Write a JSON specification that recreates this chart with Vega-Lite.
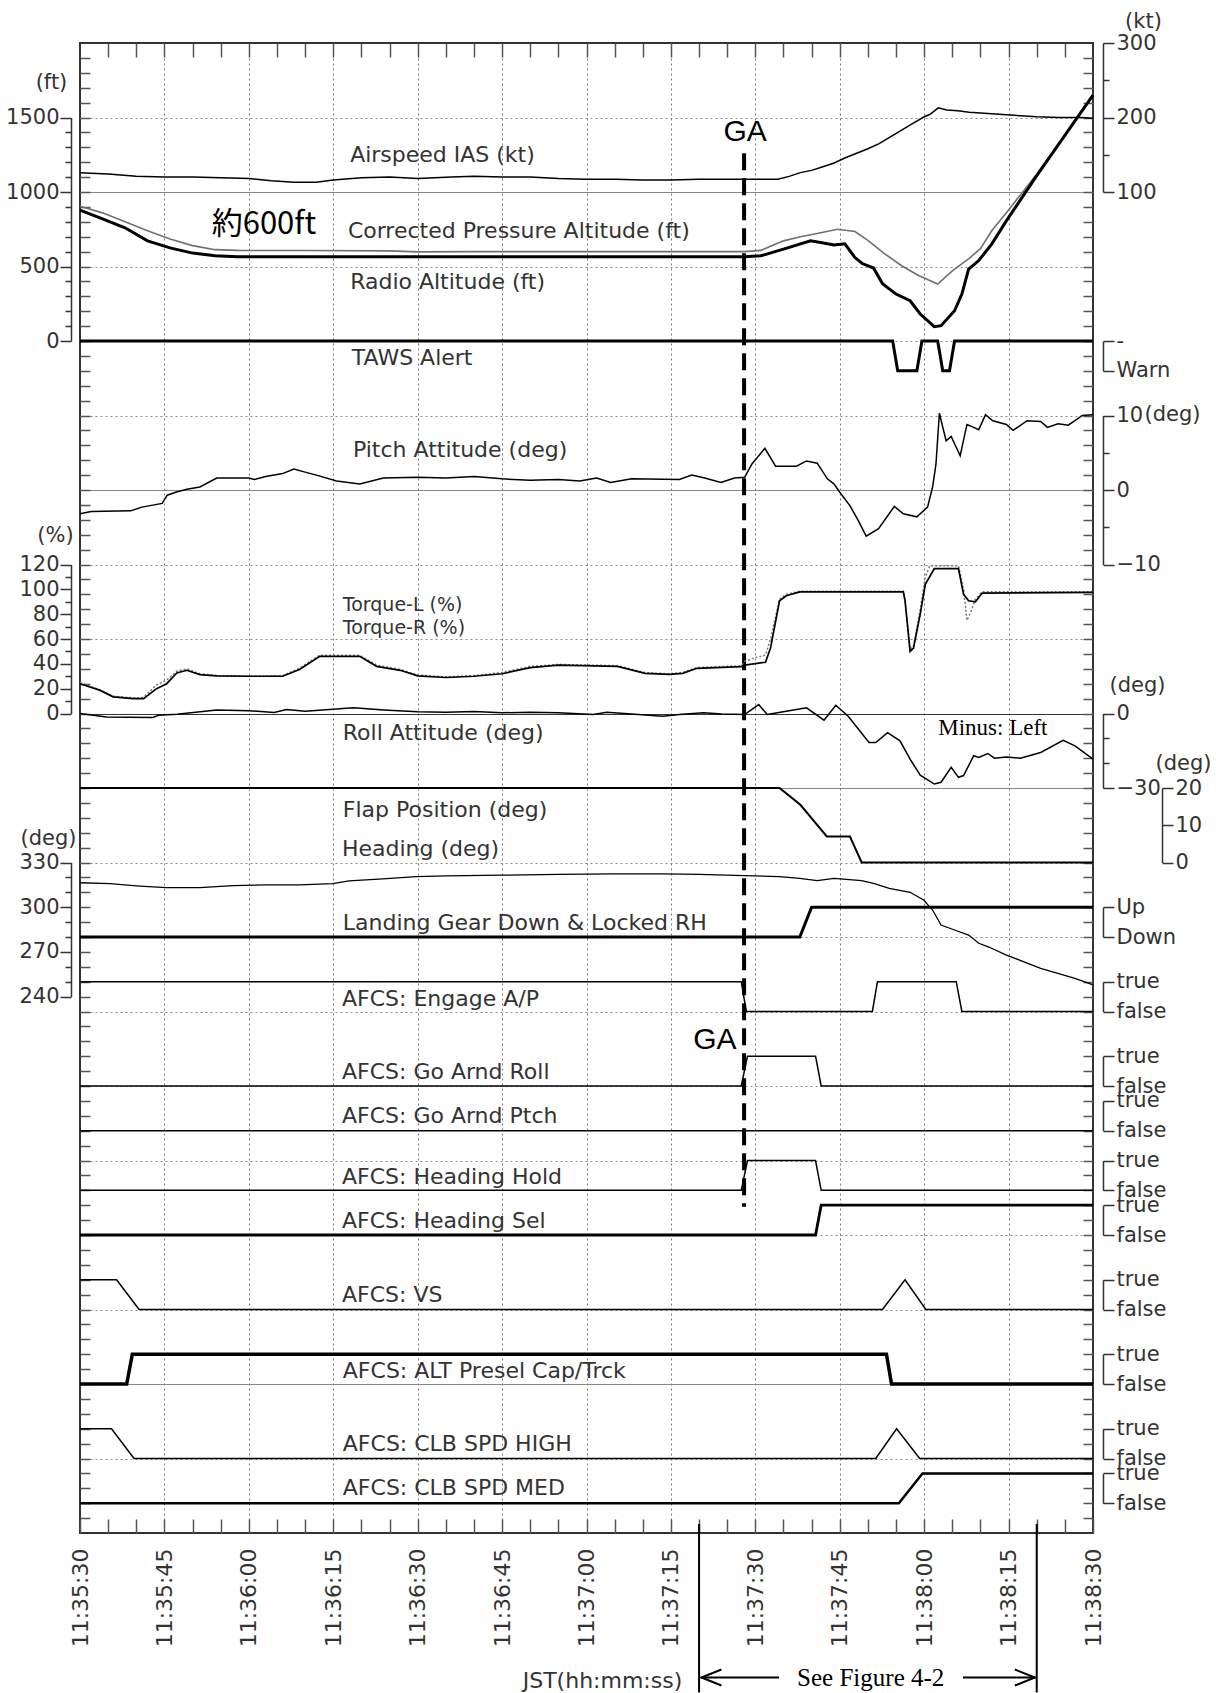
{
"$schema": "https://vega.github.io/schema/vega-lite/v6.json",
"width": 1013, "height": 1490,
"autosize": {"type": "none"},
"padding": {"left": 80, "top": 43, "right": 123, "bottom": 160},
"background": "white",
"data": {"values": [{}]},
"config": {
 "view": {"stroke": "#333", "strokeWidth": 2},
 "text": {"font": "DejaVu Sans", "fontSize": 22, "color": "#333", "align": "left", "baseline": "middle"},
 "axis": {"labelFont": "DejaVu Sans", "labelFontSize": 21, "labelColor": "#333", "domainColor": "#333", "tickColor": "#333", "titleFont": "DejaVu Sans", "titleFontSize": 21, "titleFontWeight": "normal", "titleColor": "#333", "labelOverlap": false, "labelBound": false, "labelFlush": false, "grid": false, "domainWidth": 1.5, "tickWidth": 1.5}
},
"datasets": {
 "ias": [{"t":0,"v":126},{"t":5,"v":124},{"t":10,"v":121},{"t":15,"v":120},{"t":20,"v":120},{"t":25,"v":119},{"t":30,"v":118},{"t":34,"v":115},{"t":38,"v":113},{"t":42,"v":113},{"t":45,"v":116},{"t":50,"v":119},{"t":55,"v":120},{"t":60,"v":118},{"t":66,"v":120},{"t":70,"v":121},{"t":75,"v":120},{"t":80,"v":120},{"t":85,"v":118},{"t":90,"v":117},{"t":95,"v":117},{"t":100,"v":116},{"t":105,"v":116},{"t":110,"v":117},{"t":115,"v":117},{"t":120,"v":117},{"t":124,"v":117},{"t":126,"v":121},{"t":128,"v":126},{"t":130,"v":129},{"t":132,"v":134},{"t":134,"v":139},{"t":136,"v":146},{"t":138,"v":152},{"t":140,"v":158},{"t":142,"v":165},{"t":144,"v":174},{"t":146,"v":183},{"t":148,"v":192},{"t":150,"v":201},{"t":151,"v":204},{"t":152.5,"v":213},{"t":154,"v":210},{"t":156,"v":209},{"t":158,"v":207},{"t":160,"v":206},{"t":162,"v":205},{"t":166,"v":203},{"t":170,"v":201},{"t":174,"v":200},{"t":178,"v":200},{"t":180,"v":199}],
 "palt": [{"t":0,"v":905},{"t":4,"v":860},{"t":8,"v":800},{"t":12,"v":740},{"t":16,"v":685},{"t":20,"v":640},{"t":24,"v":613},{"t":28,"v":608},{"t":40,"v":607},{"t":55,"v":605},{"t":60,"v":598},{"t":70,"v":600},{"t":85,"v":600},{"t":100,"v":600},{"t":118,"v":600},{"t":121,"v":608},{"t":125,"v":672},{"t":128,"v":700},{"t":131,"v":722},{"t":134.6,"v":750},{"t":137.7,"v":735},{"t":140,"v":675},{"t":143,"v":585},{"t":146,"v":505},{"t":149,"v":440},{"t":152.4,"v":382},{"t":155,"v":470},{"t":158,"v":555},{"t":160,"v":620},{"t":162,"v":740},{"t":165,"v":880},{"t":170,"v":1120},{"t":175,"v":1380},{"t":180,"v":1650}],
 "ralt": [{"t":0,"v":878},{"t":4,"v":820},{"t":8,"v":760},{"t":12,"v":672},{"t":16,"v":625},{"t":20,"v":590},{"t":24,"v":572},{"t":28,"v":566},{"t":40,"v":566},{"t":60,"v":565},{"t":80,"v":565},{"t":100,"v":565},{"t":118,"v":565},{"t":121,"v":572},{"t":125,"v":617},{"t":129.8,"v":672},{"t":131.6,"v":661},{"t":134,"v":645},{"t":135.9,"v":652},{"t":137.7,"v":560},{"t":139,"v":520},{"t":141,"v":490},{"t":142.6,"v":385},{"t":145,"v":315},{"t":147.5,"v":270},{"t":149.3,"v":181},{"t":151.8,"v":96},{"t":153,"v":103},{"t":155.4,"v":203},{"t":156.7,"v":315},{"t":157.9,"v":482},{"t":159.7,"v":540},{"t":162,"v":650},{"t":164.6,"v":806},{"t":170,"v":1110},{"t":175,"v":1380},{"t":180,"v":1650}],
 "taws": [{"t":0,"v":0},{"t":144.4,"v":0},{"t":145.3,"v":1},{"t":148.7,"v":1},{"t":149.6,"v":0},{"t":152.4,"v":0},{"t":153.3,"v":1},{"t":154.5,"v":1},{"t":155.4,"v":0},{"t":180,"v":0}],
 "pitch": [{"t":0,"v":-3.2},{"t":2,"v":-2.9},{"t":9,"v":-2.8},{"t":11,"v":-2.3},{"t":14.6,"v":-1.8},{"t":15.5,"v":-0.7},{"t":17,"v":-0.3},{"t":19,"v":0.1},{"t":21.3,"v":0.4},{"t":24.3,"v":1.6},{"t":30,"v":1.6},{"t":31,"v":1.4},{"t":33,"v":1.8},{"t":36,"v":2.2},{"t":38,"v":2.8},{"t":40,"v":2.4},{"t":42,"v":2.0},{"t":45.6,"v":1.2},{"t":49.7,"v":0.8},{"t":53.9,"v":1.6},{"t":60,"v":1.7},{"t":65,"v":1.6},{"t":70,"v":1.8},{"t":75,"v":1.5},{"t":80,"v":1.3},{"t":85,"v":1.4},{"t":88.8,"v":1.2},{"t":91.8,"v":1.6},{"t":94.3,"v":1.0},{"t":98,"v":1.5},{"t":106.5,"v":1.4},{"t":108.7,"v":2.0},{"t":111,"v":1.6},{"t":113.9,"v":1.0},{"t":116.3,"v":1.6},{"t":118.1,"v":1.7},{"t":119.4,"v":3.5},{"t":121.7,"v":5.6},{"t":123.6,"v":3.2},{"t":127.3,"v":3.2},{"t":129.1,"v":3.9},{"t":131,"v":3.6},{"t":132.8,"v":1.5},{"t":134,"v":0.8},{"t":135,"v":-0.3},{"t":136.8,"v":-2.1},{"t":138.3,"v":-4.1},{"t":139.7,"v":-6.2},{"t":141.9,"v":-5.2},{"t":144.7,"v":-2.2},{"t":146.3,"v":-3.2},{"t":148.7,"v":-3.6},{"t":150.6,"v":-2.3},{"t":151.5,"v":0.4},{"t":152.1,"v":3.5},{"t":152.7,"v":10.3},{"t":153.9,"v":6.6},{"t":154.8,"v":7.2},{"t":156.4,"v":4.6},{"t":157.6,"v":8.8},{"t":158.5,"v":8.5},{"t":159.7,"v":8.1},{"t":160.9,"v":10.1},{"t":162.2,"v":9.3},{"t":164.6,"v":8.8},{"t":165.8,"v":8.0},{"t":168.3,"v":9.3},{"t":170.7,"v":9.2},{"t":171.9,"v":8.4},{"t":173.8,"v":8.9},{"t":175.6,"v":8.7},{"t":176.8,"v":9.3},{"t":178.1,"v":10.0},{"t":180,"v":10.1}],
 "tql": [{"t":0,"v":24},{"t":3.5,"v":18.8},{"t":5.9,"v":13.4},{"t":9.5,"v":12},{"t":11.3,"v":12},{"t":13.6,"v":20},{"t":15.4,"v":24},{"t":17.2,"v":32.7},{"t":19,"v":34.8},{"t":21.3,"v":31.3},{"t":24.3,"v":30.3},{"t":30,"v":30},{"t":36,"v":30},{"t":39,"v":35.4},{"t":42.6,"v":46},{"t":49.7,"v":46},{"t":52.7,"v":38},{"t":56.9,"v":34.8},{"t":60,"v":30.3},{"t":65,"v":29},{"t":70,"v":30},{"t":75,"v":32},{"t":80,"v":37},{"t":85,"v":39},{"t":95.5,"v":38},{"t":100.4,"v":32.3},{"t":104.7,"v":31.5},{"t":107.1,"v":32.3},{"t":109.6,"v":36.4},{"t":117.5,"v":37.8},{"t":118.1,"v":39},{"t":121.8,"v":41.3},{"t":122.7,"v":52.7},{"t":124.3,"v":90.8},{"t":125.5,"v":94.8},{"t":127.9,"v":98},{"t":146.3,"v":98},{"t":146.6,"v":90.8},{"t":147.5,"v":50},{"t":148.1,"v":52.7},{"t":149.3,"v":80},{"t":150.2,"v":104},{"t":151.8,"v":116.6},{"t":156.1,"v":116.6},{"t":157,"v":96},{"t":157.9,"v":90.8},{"t":159.1,"v":90},{"t":160.3,"v":97},{"t":180,"v":97.5}],
 "tqr": [{"t":0,"v":25},{"t":3.5,"v":19},{"t":5.9,"v":14},{"t":9.5,"v":12.5},{"t":11.3,"v":13},{"t":13.6,"v":23},{"t":15.4,"v":27},{"t":17.2,"v":34},{"t":19,"v":36},{"t":21.3,"v":32},{"t":24.3,"v":30.5},{"t":30,"v":30},{"t":36,"v":30.5},{"t":39,"v":36.5},{"t":42.6,"v":47},{"t":49.7,"v":47},{"t":52.7,"v":39},{"t":56.9,"v":35.5},{"t":60,"v":31},{"t":65,"v":29.5},{"t":70,"v":30.5},{"t":75,"v":33},{"t":80,"v":38},{"t":85,"v":39.5},{"t":95.5,"v":38.5},{"t":100.4,"v":33},{"t":104.7,"v":32},{"t":107.1,"v":33},{"t":109.6,"v":37},{"t":117.5,"v":38.5},{"t":118.1,"v":42},{"t":120,"v":45},{"t":121.8,"v":47},{"t":122.7,"v":60},{"t":124.3,"v":92},{"t":125.5,"v":96},{"t":127.9,"v":98.5},{"t":146.3,"v":98.5},{"t":146.6,"v":92},{"t":147.5,"v":52},{"t":148.1,"v":54},{"t":149.3,"v":84},{"t":150.2,"v":110},{"t":151,"v":119},{"t":156.1,"v":119},{"t":157,"v":100},{"t":157.6,"v":75},{"t":158.3,"v":82},{"t":159.1,"v":92},{"t":160.3,"v":98},{"t":180,"v":98}],
 "roll": [{"t":0,"v":0},{"t":4.7,"v":-1.4},{"t":12.9,"v":-1.6},{"t":14,"v":-0.7},{"t":17.2,"v":-0.3},{"t":24.3,"v":1.4},{"t":30,"v":1.1},{"t":34.5,"v":0.4},{"t":36.7,"v":1.6},{"t":40,"v":0.9},{"t":48.6,"v":2.3},{"t":54,"v":1.4},{"t":60,"v":0.7},{"t":65,"v":0.5},{"t":70,"v":0.8},{"t":75,"v":0.3},{"t":80,"v":0.5},{"t":85,"v":0.3},{"t":91.2,"v":-0.4},{"t":93.6,"v":0.5},{"t":98,"v":-0.2},{"t":103.5,"v":-1.1},{"t":107,"v":-0.3},{"t":110.8,"v":0.3},{"t":114,"v":-0.2},{"t":118.1,"v":-0.4},{"t":120.6,"v":3.6},{"t":122.1,"v":-0.4},{"t":125.5,"v":0.9},{"t":129.1,"v":2.3},{"t":132.2,"v":-2.7},{"t":134.3,"v":3.3},{"t":136.5,"v":-1.1},{"t":140.2,"v":-11.7},{"t":141.4,"v":-11.7},{"t":143.5,"v":-7.7},{"t":145.7,"v":-11},{"t":147.5,"v":-18.4},{"t":149.3,"v":-24.8},{"t":151.8,"v":-28.4},{"t":153,"v":-27.7},{"t":154.8,"v":-21.7},{"t":156.1,"v":-25.7},{"t":157,"v":-25},{"t":158.8,"v":-17},{"t":159.7,"v":-17.7},{"t":161.3,"v":-16.1},{"t":162.5,"v":-18},{"t":164.6,"v":-17.5},{"t":167.1,"v":-18},{"t":170.7,"v":-15.7},{"t":174.7,"v":-10.8},{"t":176.8,"v":-13},{"t":180,"v":-18.4}],
 "flap": [{"t":0,"v":20},{"t":124.3,"v":20},{"t":128,"v":15.5},{"t":130.5,"v":11},{"t":132.7,"v":7},{"t":136.8,"v":7},{"t":138.9,"v":0},{"t":180,"v":0}],
 "hdg": [{"t":0,"v":316.4},{"t":5.3,"v":315.8},{"t":10.6,"v":314.2},{"t":15.4,"v":313.1},{"t":21.3,"v":313.1},{"t":27.2,"v":314.5},{"t":33.1,"v":315},{"t":39,"v":315},{"t":44.9,"v":315.8},{"t":47.8,"v":317.7},{"t":53.8,"v":319},{"t":59.7,"v":320.5},{"t":65,"v":321},{"t":75,"v":321.5},{"t":85,"v":322},{"t":95,"v":322.3},{"t":103.5,"v":322.3},{"t":110,"v":322},{"t":118.1,"v":321.2},{"t":124.3,"v":320.5},{"t":127.9,"v":319.4},{"t":131,"v":317.8},{"t":134,"v":319.4},{"t":138.9,"v":317.8},{"t":141,"v":316},{"t":143.8,"v":312.7},{"t":147.5,"v":310},{"t":149.9,"v":304.8},{"t":151.5,"v":298.1},{"t":153,"v":288},{"t":155.4,"v":284.7},{"t":157.9,"v":281.3},{"t":159.7,"v":275.8},{"t":161.6,"v":273.1},{"t":164.6,"v":267.9},{"t":170.7,"v":259},{"t":176.8,"v":252.3},{"t":180,"v":247.8}],
 "gear": [{"t":0,"v":0},{"t":127.9,"v":0},{"t":130,"v":1},{"t":180,"v":1}],
 "ap": [{"t":0,"v":1},{"t":117.5,"v":1},{"t":118.4,"v":0},{"t":140.8,"v":0},{"t":141.7,"v":1},{"t":155.7,"v":1},{"t":156.7,"v":0},{"t":180,"v":0}],
 "garoll": [{"t":0,"v":0},{"t":117.5,"v":0},{"t":118.6,"v":1},{"t":130.7,"v":1},{"t":131.7,"v":0},{"t":180,"v":0}],
 "gaptch": [{"t":0,"v":0},{"t":180,"v":0}],
 "hdghold": [{"t":0,"v":0},{"t":117.5,"v":0},{"t":118.6,"v":1},{"t":130.7,"v":1},{"t":131.7,"v":0},{"t":180,"v":0}],
 "hdgsel": [{"t":0,"v":0},{"t":130.7,"v":0},{"t":131.7,"v":1},{"t":180,"v":1}],
 "vs": [{"t":0,"v":1},{"t":6.5,"v":1},{"t":10.5,"v":0},{"t":142.6,"v":0},{"t":146.6,"v":1},{"t":150.3,"v":0},{"t":180,"v":0}],
 "altsel": [{"t":0,"v":0},{"t":8.3,"v":0},{"t":9.3,"v":1},{"t":143.3,"v":1},{"t":144.2,"v":0},{"t":180,"v":0}],
 "clbhigh": [{"t":0,"v":1},{"t":5.6,"v":1},{"t":9.6,"v":0},{"t":141.4,"v":0},{"t":145.1,"v":1},{"t":149.2,"v":0},{"t":180,"v":0}],
 "clbmed": [{"t":0,"v":0},{"t":145.5,"v":0},{"t":149.7,"v":1},{"t":180,"v":1}]
},
"layer": [
 {"mark": {"type": "text", "align": "left", "baseline": "middle", "font": "Liberation Serif", "fontSize": 23, "color": "black", "text": "Minus: Left"},
  "encoding": {
   "x": {"datum": 152.5, "type": "quantitative", "scale": {"domain": [0, 180], "nice": false, "zero": false}, "axis": {"orient": "top", "values": [15,30,45,60,75,90,105,120,135,150,165], "grid": true, "gridColor": "#777", "gridDash": [2,3], "gridWidth": 1, "ticks": false, "labels": false, "domain": false, "title": null}},
   "y": {"datum": 46.0, "type": "quantitative", "scale": {"domain": [0, 100], "range": [0, 1490], "nice": false, "zero": false},
     "axis": {"orient": "left", "values": [5,10,15,20,25,30,35,40,45,50,55,60,65,70,75,80,85,90,95], "grid": true, "gridWidth": 1.2,
       "gridColor": {"condition": {"test": "datum.value === 45", "value": "#333"}, "value": "#888"},
       "gridDash": {"condition": {"test": "indexof([10,30,45,50,90], datum.value) >= 0", "value": []}, "value": [2,3]},
       "ticks": false, "labels": false, "domain": false, "title": null}}
  }},
 {"mark": {"type": "rule", "strokeDash": [17, 8], "strokeWidth": 4, "color": "black"},
  "encoding": {
   "x": {"datum": 118, "type": "quantitative", "axis": {"orient": "bottom", "values": [0,5,10,15,20,25,30,35,40,45,50,55,60,65,70,75,80,85,90,95,100,105,110,115,120,125,130,135,140,145,150,155,160,165,170,175,180], "tickSize": -14, "tickColor": "#555", "domain": false, "labelAngle": -90, "labelAlign": "right", "labelBaseline": "middle", "labelPadding": 29, "labelFontSize": 22,
     "labelExpr": "datum.value % 15 === 0 ? timeFormat(datetime(2000, 0, 1, 11, 35, 30 + datum.value), '%H:%M:%S') : ''",
     "title": "JST(hh:mm:ss)", "titleAngle": 0, "titleX": 522, "titleY": 147, "titleAlign": "center", "titleBaseline": "middle", "titleFontSize": 22}},
   "y": {"datum": 7.4, "type": "quantitative", "scale": {"domain": [0, 100], "range": [0, 1490], "nice": false, "zero": false},
     "axis": {"orient": "left", "values": [1,2,3,4,5,6,7,8,9,10,11,12,13,14,15,16,17,18,19,20,21,22,23,24,25,26,27,28,29,30,31,32,33,34,35,36,37,38,39,40,41,42,43,44,45,46,47,48,49,50,51,52,53,54,55,56,57,58,59,60,61,62,63,64,65,66,67,68,69,70,71,72,73,74,75,76,77,78,79,80,81,82,83,84,85,86,87,88,89,90,91,92,93,94,95,96,97,98,99], "tickSize": -10, "tickColor": "#555", "labels": false, "domain": false, "title": null}},
   "y2": {"datum": 78.1}
  }},
 {"mark": {"type": "rule", "strokeWidth": 2, "color": "black"},
  "encoding": {
   "x": {"datum": 110, "type": "quantitative", "axis": {"orient": "top", "values": [5,10,15,20,25,30,35,40,45,50,55,60,65,70,75,80,85,90,95,100,105,110,115,120,125,130,135,140,145,150,155,160,165,170,175], "tickSize": -14, "tickColor": "#555", "labels": false, "domain": false, "title": null}},
   "y": {"datum": 99.4, "type": "quantitative", "scale": {"domain": [0, 100], "range": [0, 1490], "nice": false, "zero": false},
     "axis": {"orient": "right", "values": [1,2,3,4,5,6,7,8,9,10,11,12,13,14,15,16,17,18,19,20,21,22,23,24,25,26,27,28,29,30,31,32,33,34,35,36,37,38,39,40,41,42,43,44,45,46,47,48,49,50,51,52,53,54,55,56,57,58,59,60,61,62,63,64,65,66,67,68,69,70,71,72,73,74,75,76,77,78,79,80,81,82,83,84,85,86,87,88,89,90,91,92,93,94,95,96,97,98,99], "tickSize": -10, "tickColor": "#555", "labels": false, "domain": false, "title": null}},
   "y2": {"datum": 110.7}
  }},
 {"mark": {"type": "rule", "strokeWidth": 2, "color": "black"},
  "encoding": {"x": {"datum": 170, "type": "quantitative", "axis": null}, "y": {"datum": 99.4, "type": "quantitative", "scale": {"domain": [0, 100], "range": [0, 1490], "nice": false, "zero": false}, "axis": null}, "y2": {"datum": 110.7}}},
 {"mark": {"type": "rule", "strokeWidth": 2, "color": "black"},
  "encoding": {"x": {"datum": 110.3, "type": "quantitative", "axis": null}, "x2": {"datum": 124.2}, "y": {"datum": 109.7, "type": "quantitative", "scale": {"domain": [0, 100], "range": [0, 1490], "nice": false, "zero": false}, "axis": null}}},
 {"mark": {"type": "rule", "strokeWidth": 2, "color": "black"},
  "encoding": {"x": {"datum": 156.9, "type": "quantitative", "axis": null}, "x2": {"datum": 169.8}, "y": {"datum": 109.7, "type": "quantitative", "scale": {"domain": [0, 100], "range": [0, 1490], "nice": false, "zero": false}, "axis": null}}},
 {"mark": {"type": "point", "shape": "M 1 -0.8 L -1 0 L 1 0.8", "size": 400, "filled": false, "strokeWidth": 2, "color": "black", "opacity": 1},
  "encoding": {"x": {"datum": 112.2, "type": "quantitative", "axis": null}, "y": {"datum": 109.7, "type": "quantitative", "scale": {"domain": [0, 100], "range": [0, 1490], "nice": false, "zero": false}, "axis": null}}},
 {"mark": {"type": "point", "shape": "M -1 -0.8 L 1 0 L -1 0.8", "size": 400, "filled": false, "strokeWidth": 2, "color": "black", "opacity": 1},
  "encoding": {"x": {"datum": 167.9, "type": "quantitative", "axis": null}, "y": {"datum": 109.7, "type": "quantitative", "scale": {"domain": [0, 100], "range": [0, 1490], "nice": false, "zero": false}, "axis": null}}},
 {"mark": {"type": "text", "align": "center", "baseline": "middle", "font": "Liberation Serif", "fontSize": 25, "color": "black", "text": "See Figure 4-2"},
  "encoding": {"x": {"datum": 140.5, "type": "quantitative", "axis": null}, "y": {"datum": 109.7, "type": "quantitative", "scale": {"domain": [0, 100], "range": [0, 1490], "nice": false, "zero": false}, "axis": null}}},
 {"mark": {"type": "text", "align": "center", "baseline": "middle", "font": "Liberation Sans", "fontSize": 30, "color": "black", "text": "GA"},
  "encoding": {"x": {"datum": 118.2, "type": "quantitative", "axis": null}, "y": {"datum": 6.0, "type": "quantitative", "scale": {"domain": [0, 100], "range": [0, 1490], "nice": false, "zero": false}, "axis": null}}},
 {"mark": {"type": "text", "align": "center", "baseline": "middle", "font": "Liberation Sans", "fontSize": 30, "color": "black", "text": "GA"},
  "encoding": {"x": {"datum": 112.8, "type": "quantitative", "axis": null}, "y": {"datum": 66.9, "type": "quantitative", "scale": {"domain": [0, 100], "range": [0, 1490], "nice": false, "zero": false}, "axis": null}}},
 {"mark": {"type": "text", "align": "left", "baseline": "middle", "font": "Noto Sans CJK JP", "fontSize": 31, "color": "black", "text": "約600ft"},
  "encoding": {"x": {"datum": 23.4, "type": "quantitative", "axis": null}, "y": {"datum": 12.2, "type": "quantitative", "scale": {"domain": [0, 100], "range": [0, 1490], "nice": false, "zero": false}, "axis": null}}},

 {"data": {"name": "ias"}, "mark": {"type": "line", "color": "black", "strokeWidth": 1.5},
  "encoding": {"x": {"field": "t", "type": "quantitative", "axis": null}, "y": {"field": "v", "type": "quantitative", "scale": {"domain": [100, 300], "range": [149, 0], "nice": false, "zero": false},
   "axis": {"orient": "right", "offset": 10, "values": [100,150,200,250,300], "labelExpr": "datum.value % 100 === 0 ? datum.label : ''", "tickSize": {"condition": {"test": "datum.value % 100 === 0", "value": 11}, "value": 6}, "labelPadding": 2, "title": "(kt)", "titleAngle": 0, "titleX": 40, "titleY": -22, "titleAlign": "center", "titleBaseline": "middle"}}}},
 {"data": {"name": "palt"}, "mark": {"type": "line", "color": "#707070", "strokeWidth": 1.6},
  "encoding": {"x": {"field": "t", "type": "quantitative", "axis": null}, "y": {"field": "v", "type": "quantitative", "scale": {"domain": [0, 1500], "range": [298, 74.5], "nice": false, "zero": false},
   "axis": {"orient": "left", "offset": 9, "values": [0,100,200,300,400,500,600,700,800,900,1000,1100,1200,1300,1400,1500], "format": "d", "labelExpr": "datum.value % 500 === 0 ? datum.label : ''", "tickSize": {"condition": {"test": "datum.value % 500 === 0", "value": 11}, "value": 6}, "labelPadding": 1, "title": "(ft)", "titleAngle": 0, "titleX": -20, "titleY": 39, "titleAlign": "center", "titleBaseline": "middle"}}}},
 {"data": {"name": "ralt"}, "mark": {"type": "line", "color": "black", "strokeWidth": 3},
  "encoding": {"x": {"field": "t", "type": "quantitative", "axis": null}, "y": {"field": "v", "type": "quantitative", "scale": {"domain": [0, 1500], "range": [298, 74.5], "nice": false, "zero": false}, "axis": null}}},
 {"data": {"name": "taws"}, "mark": {"type": "line", "color": "black", "strokeWidth": 3},
  "encoding": {"x": {"field": "t", "type": "quantitative", "axis": null}, "y": {"field": "v", "type": "quantitative", "scale": {"domain": [0, 1], "range": [298, 327.8], "nice": false, "zero": false},
   "axis": {"orient": "right", "offset": 10, "values": [0, 1], "labelExpr": "datum.value == 1 ? 'Warn' : '-'", "tickSize": 11, "labelPadding": 2, "title": null}}}},
 {"data": {"name": "pitch"}, "mark": {"type": "line", "color": "black", "strokeWidth": 1.5},
  "encoding": {"x": {"field": "t", "type": "quantitative", "axis": null}, "y": {"field": "v", "type": "quantitative", "scale": {"domain": [-10, 10], "range": [521.5, 372.5], "nice": false, "zero": false},
   "axis": {"orient": "right", "offset": 10, "values": [-10,-5,0,5,10], "labelExpr": "datum.value % 10 === 0 ? datum.label : ''", "tickSize": {"condition": {"test": "datum.value % 10 === 0", "value": 11}, "value": 6}, "labelPadding": 2, "title": "(deg)", "titleAngle": 0, "titleX": 69, "titleY": 371, "titleAlign": "center", "titleBaseline": "middle"}}}},
 {"data": {"name": "tqr"}, "mark": {"type": "line", "color": "#777", "strokeWidth": 1.5, "strokeDash": [2, 2]},
  "encoding": {"x": {"field": "t", "type": "quantitative", "axis": null}, "y": {"field": "v", "type": "quantitative", "scale": {"domain": [0, 120], "range": [670.5, 521.5], "nice": false, "zero": false}, "axis": null}}},
 {"data": {"name": "tql"}, "mark": {"type": "line", "color": "black", "strokeWidth": 1.7},
  "encoding": {"x": {"field": "t", "type": "quantitative", "axis": null}, "y": {"field": "v", "type": "quantitative", "scale": {"domain": [0, 120], "range": [670.5, 521.5], "nice": false, "zero": false},
   "axis": {"orient": "left", "offset": 9, "values": [0,10,20,30,40,50,60,70,80,90,100,110,120], "labelExpr": "datum.value % 20 === 0 ? datum.label : ''", "tickSize": {"condition": {"test": "datum.value % 20 === 0", "value": 11}, "value": 6}, "labelPadding": 1, "title": "(%)", "titleAngle": 0, "titleX": -16, "titleY": 492, "titleAlign": "center", "titleBaseline": "middle"}}}},
 {"data": {"name": "roll"}, "mark": {"type": "line", "color": "black", "strokeWidth": 1.5},
  "encoding": {"x": {"field": "t", "type": "quantitative", "axis": null}, "y": {"field": "v", "type": "quantitative", "scale": {"domain": [-30, 0], "range": [745, 670.5], "nice": false, "zero": false},
   "axis": {"orient": "right", "offset": 10, "values": [-30,-20,-10,0], "labelExpr": "datum.value % 30 === 0 ? datum.label : ''", "tickSize": {"condition": {"test": "datum.value % 30 === 0", "value": 11}, "value": 6}, "labelPadding": 2, "title": "(deg)", "titleAngle": 0, "titleX": 34, "titleY": 642, "titleAlign": "center", "titleBaseline": "middle"}}}},
 {"data": {"name": "flap"}, "mark": {"type": "line", "color": "black", "strokeWidth": 2},
  "encoding": {"x": {"field": "t", "type": "quantitative", "axis": null}, "y": {"field": "v", "type": "quantitative", "scale": {"domain": [0, 20], "range": [819.5, 745], "nice": false, "zero": false},
   "axis": {"orient": "right", "offset": 69, "values": [0,10,20], "tickSize": 11, "labelPadding": 2, "title": "(deg)", "titleAngle": 0, "titleX": 21, "titleY": 720, "titleAlign": "center", "titleBaseline": "middle"}}}},
 {"data": {"name": "hdg"}, "mark": {"type": "line", "color": "black", "strokeWidth": 1.3},
  "encoding": {"x": {"field": "t", "type": "quantitative", "axis": null}, "y": {"field": "v", "type": "quantitative", "scale": {"domain": [240, 330], "range": [953.6, 819.5], "nice": false, "zero": false},
   "axis": {"orient": "left", "offset": 9, "values": [240,250,260,270,280,290,300,310,320,330], "labelExpr": "datum.value % 30 === 0 ? datum.label : ''", "tickSize": {"condition": {"test": "datum.value % 30 === 0", "value": 11}, "value": 6}, "labelPadding": 1, "title": "(deg)", "titleAngle": 0, "titleX": -23, "titleY": 795, "titleAlign": "center", "titleBaseline": "middle"}}}},
 {"data": {"name": "gear"}, "mark": {"type": "line", "color": "black", "strokeWidth": 3},
  "encoding": {"x": {"field": "t", "type": "quantitative", "axis": null}, "y": {"field": "v", "type": "quantitative", "scale": {"domain": [0, 1], "range": [894, 864.2], "nice": false, "zero": false},
   "axis": {"orient": "right", "offset": 10, "values": [0, 1], "labelExpr": "datum.value == 1 ? 'Up' : 'Down'", "tickSize": 11, "labelPadding": 2, "title": null}}}},
 {"data": {"name": "ap"}, "mark": {"type": "line", "color": "black", "strokeWidth": 1.5},
  "encoding": {"x": {"field": "t", "type": "quantitative", "axis": null}, "y": {"field": "v", "type": "quantitative", "scale": {"domain": [0, 1], "range": [968.5, 938.7], "nice": false, "zero": false},
   "axis": {"orient": "right", "offset": 10, "values": [0, 1], "labelExpr": "datum.value == 1 ? 'true' : 'false'", "tickSize": 11, "labelPadding": 2, "title": null}}}},
 {"data": {"name": "garoll"}, "mark": {"type": "line", "color": "black", "strokeWidth": 1.5},
  "encoding": {"x": {"field": "t", "type": "quantitative", "axis": null}, "y": {"field": "v", "type": "quantitative", "scale": {"domain": [0, 1], "range": [1043, 1013.2], "nice": false, "zero": false},
   "axis": {"orient": "right", "offset": 10, "values": [0, 1], "labelExpr": "datum.value == 1 ? 'true' : 'false'", "tickSize": 11, "labelPadding": 2, "title": null}}}},
 {"data": {"name": "gaptch"}, "mark": {"type": "line", "color": "black", "strokeWidth": 1.5},
  "encoding": {"x": {"field": "t", "type": "quantitative", "axis": null}, "y": {"field": "v", "type": "quantitative", "scale": {"domain": [0, 1], "range": [1087.7, 1057.9], "nice": false, "zero": false},
   "axis": {"orient": "right", "offset": 10, "values": [0, 1], "labelExpr": "datum.value == 1 ? 'true' : 'false'", "tickSize": 11, "labelPadding": 2, "title": null}}}},
 {"data": {"name": "hdghold"}, "mark": {"type": "line", "color": "black", "strokeWidth": 1.5},
  "encoding": {"x": {"field": "t", "type": "quantitative", "axis": null}, "y": {"field": "v", "type": "quantitative", "scale": {"domain": [0, 1], "range": [1147.3, 1117.5], "nice": false, "zero": false},
   "axis": {"orient": "right", "offset": 10, "values": [0, 1], "labelExpr": "datum.value == 1 ? 'true' : 'false'", "tickSize": 11, "labelPadding": 2, "title": null}}}},
 {"data": {"name": "hdgsel"}, "mark": {"type": "line", "color": "black", "strokeWidth": 2.8},
  "encoding": {"x": {"field": "t", "type": "quantitative", "axis": null}, "y": {"field": "v", "type": "quantitative", "scale": {"domain": [0, 1], "range": [1192, 1162.2], "nice": false, "zero": false},
   "axis": {"orient": "right", "offset": 10, "values": [0, 1], "labelExpr": "datum.value == 1 ? 'true' : 'false'", "tickSize": 11, "labelPadding": 2, "title": null}}}},
 {"data": {"name": "vs"}, "mark": {"type": "line", "color": "black", "strokeWidth": 1.5},
  "encoding": {"x": {"field": "t", "type": "quantitative", "axis": null}, "y": {"field": "v", "type": "quantitative", "scale": {"domain": [0, 1], "range": [1266.5, 1236.7], "nice": false, "zero": false},
   "axis": {"orient": "right", "offset": 10, "values": [0, 1], "labelExpr": "datum.value == 1 ? 'true' : 'false'", "tickSize": 11, "labelPadding": 2, "title": null}}}},
 {"data": {"name": "altsel"}, "mark": {"type": "line", "color": "black", "strokeWidth": 3.5},
  "encoding": {"x": {"field": "t", "type": "quantitative", "axis": null}, "y": {"field": "v", "type": "quantitative", "scale": {"domain": [0, 1], "range": [1341, 1311.2], "nice": false, "zero": false},
   "axis": {"orient": "right", "offset": 10, "values": [0, 1], "labelExpr": "datum.value == 1 ? 'true' : 'false'", "tickSize": 11, "labelPadding": 2, "title": null}}}},
 {"data": {"name": "clbhigh"}, "mark": {"type": "line", "color": "black", "strokeWidth": 1.5},
  "encoding": {"x": {"field": "t", "type": "quantitative", "axis": null}, "y": {"field": "v", "type": "quantitative", "scale": {"domain": [0, 1], "range": [1415.5, 1385.7], "nice": false, "zero": false},
   "axis": {"orient": "right", "offset": 10, "values": [0, 1], "labelExpr": "datum.value == 1 ? 'true' : 'false'", "tickSize": 11, "labelPadding": 2, "title": null}}}},
 {"data": {"name": "clbmed"}, "mark": {"type": "line", "color": "black", "strokeWidth": 2.5},
  "encoding": {"x": {"field": "t", "type": "quantitative", "axis": null}, "y": {"field": "v", "type": "quantitative", "scale": {"domain": [0, 1], "range": [1460.2, 1430.4], "nice": false, "zero": false},
   "axis": {"orient": "right", "offset": 10, "values": [0, 1], "labelExpr": "datum.value == 1 ? 'true' : 'false'", "tickSize": 11, "labelPadding": 2, "title": null}}}},

 {"mark": {"type": "text", "text": "Airspeed IAS (kt)"},
  "encoding": {"x": {"datum": 48.0, "type": "quantitative", "axis": null}, "y": {"datum": 7.55, "type": "quantitative", "scale": {"domain": [0, 100], "range": [0, 1490], "nice": false, "zero": false}, "axis": null}}},
 {"mark": {"type": "text", "text": "Corrected Pressure Altitude (ft)"},
  "encoding": {"x": {"datum": 47.6, "type": "quantitative", "axis": null}, "y": {"datum": 12.65, "type": "quantitative", "scale": {"domain": [0, 100], "range": [0, 1490], "nice": false, "zero": false}, "axis": null}}},
 {"mark": {"type": "text", "text": "Radio Altitude (ft)"},
  "encoding": {"x": {"datum": 48.0, "type": "quantitative", "axis": null}, "y": {"datum": 16.04, "type": "quantitative", "scale": {"domain": [0, 100], "range": [0, 1490], "nice": false, "zero": false}, "axis": null}}},
 {"mark": {"type": "text", "text": "TAWS Alert"},
  "encoding": {"x": {"datum": 48.3, "type": "quantitative", "axis": null}, "y": {"datum": 21.17, "type": "quantitative", "scale": {"domain": [0, 100], "range": [0, 1490], "nice": false, "zero": false}, "axis": null}}},
 {"mark": {"type": "text", "text": "Pitch Attitude (deg)"},
  "encoding": {"x": {"datum": 48.5, "type": "quantitative", "axis": null}, "y": {"datum": 27.3, "type": "quantitative", "scale": {"domain": [0, 100], "range": [0, 1490], "nice": false, "zero": false}, "axis": null}}},
 {"mark": {"type": "text", "text": "Torque-L (%)", "fontSize": 19},
  "encoding": {"x": {"datum": 46.7, "type": "quantitative", "axis": null}, "y": {"datum": 37.75, "type": "quantitative", "scale": {"domain": [0, 100], "range": [0, 1490], "nice": false, "zero": false}, "axis": null}}},
 {"mark": {"type": "text", "text": "Torque-R (%)", "fontSize": 19},
  "encoding": {"x": {"datum": 46.7, "type": "quantitative", "axis": null}, "y": {"datum": 39.25, "type": "quantitative", "scale": {"domain": [0, 100], "range": [0, 1490], "nice": false, "zero": false}, "axis": null}}},
 {"mark": {"type": "text", "text": "Roll Attitude (deg)"},
  "encoding": {"x": {"datum": 46.7, "type": "quantitative", "axis": null}, "y": {"datum": 46.3, "type": "quantitative", "scale": {"domain": [0, 100], "range": [0, 1490], "nice": false, "zero": false}, "axis": null}}},
 {"mark": {"type": "text", "text": "Flap Position (deg)"},
  "encoding": {"x": {"datum": 46.7, "type": "quantitative", "axis": null}, "y": {"datum": 51.5, "type": "quantitative", "scale": {"domain": [0, 100], "range": [0, 1490], "nice": false, "zero": false}, "axis": null}}},
 {"mark": {"type": "text", "text": "Heading (deg)"},
  "encoding": {"x": {"datum": 46.55, "type": "quantitative", "axis": null}, "y": {"datum": 54.1, "type": "quantitative", "scale": {"domain": [0, 100], "range": [0, 1490], "nice": false, "zero": false}, "axis": null}}},
 {"mark": {"type": "text", "text": "Landing Gear Down & Locked RH"},
  "encoding": {"x": {"datum": 46.7, "type": "quantitative", "axis": null}, "y": {"datum": 59.06, "type": "quantitative", "scale": {"domain": [0, 100], "range": [0, 1490], "nice": false, "zero": false}, "axis": null}}},
 {"mark": {"type": "text", "text": "AFCS: Engage A/P"},
  "encoding": {"x": {"datum": 46.55, "type": "quantitative", "axis": null}, "y": {"datum": 64.16, "type": "quantitative", "scale": {"domain": [0, 100], "range": [0, 1490], "nice": false, "zero": false}, "axis": null}}},
 {"mark": {"type": "text", "text": "AFCS: Go Arnd Roll"},
  "encoding": {"x": {"datum": 46.55, "type": "quantitative", "axis": null}, "y": {"datum": 69.03, "type": "quantitative", "scale": {"domain": [0, 100], "range": [0, 1490], "nice": false, "zero": false}, "axis": null}}},
 {"mark": {"type": "text", "text": "AFCS: Go Arnd Ptch"},
  "encoding": {"x": {"datum": 46.55, "type": "quantitative", "axis": null}, "y": {"datum": 72.0, "type": "quantitative", "scale": {"domain": [0, 100], "range": [0, 1490], "nice": false, "zero": false}, "axis": null}}},
 {"mark": {"type": "text", "text": "AFCS: Heading Hold"},
  "encoding": {"x": {"datum": 46.55, "type": "quantitative", "axis": null}, "y": {"datum": 76.14, "type": "quantitative", "scale": {"domain": [0, 100], "range": [0, 1490], "nice": false, "zero": false}, "axis": null}}},
 {"mark": {"type": "text", "text": "AFCS: Heading Sel"},
  "encoding": {"x": {"datum": 46.55, "type": "quantitative", "axis": null}, "y": {"datum": 79.06, "type": "quantitative", "scale": {"domain": [0, 100], "range": [0, 1490], "nice": false, "zero": false}, "axis": null}}},
 {"mark": {"type": "text", "text": "AFCS: VS"},
  "encoding": {"x": {"datum": 46.55, "type": "quantitative", "axis": null}, "y": {"datum": 84.0, "type": "quantitative", "scale": {"domain": [0, 100], "range": [0, 1490], "nice": false, "zero": false}, "axis": null}}},
 {"mark": {"type": "text", "text": "AFCS: ALT Presel Cap/Trck"},
  "encoding": {"x": {"datum": 46.7, "type": "quantitative", "axis": null}, "y": {"datum": 89.1, "type": "quantitative", "scale": {"domain": [0, 100], "range": [0, 1490], "nice": false, "zero": false}, "axis": null}}},
 {"mark": {"type": "text", "text": "AFCS: CLB SPD HIGH"},
  "encoding": {"x": {"datum": 46.7, "type": "quantitative", "axis": null}, "y": {"datum": 94.0, "type": "quantitative", "scale": {"domain": [0, 100], "range": [0, 1490], "nice": false, "zero": false}, "axis": null}}},
 {"mark": {"type": "text", "text": "AFCS: CLB SPD MED"},
  "encoding": {"x": {"datum": 46.7, "type": "quantitative", "axis": null}, "y": {"datum": 97.0, "type": "quantitative", "scale": {"domain": [0, 100], "range": [0, 1490], "nice": false, "zero": false}, "axis": null}}}
],
"resolve": {"scale": {"y": "independent"}, "axis": {"x": "independent", "y": "independent"}}
}
